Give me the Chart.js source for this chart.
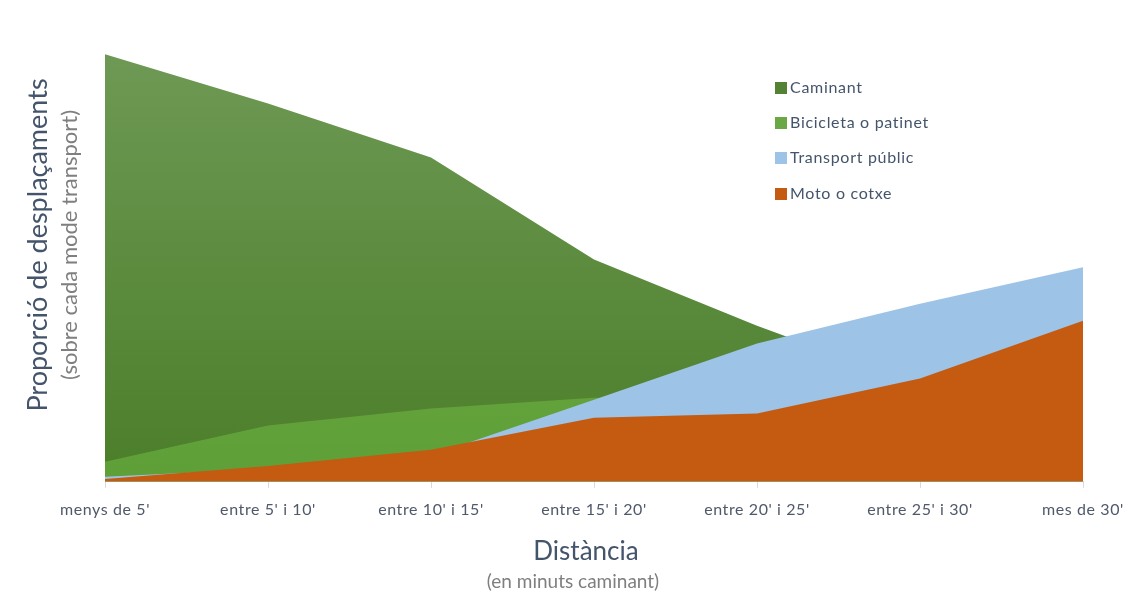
<!DOCTYPE html>
<html>
<head>
<meta charset="utf-8">
<script src="https://cdn.jsdelivr.net/npm/chart.js@4"></script>
<style>
  body { margin: 0; background: #fff; }
  #wrap { width: 1148px; height: 597px; }
</style>
</head>
<body>
<div id="wrap"><canvas id="myChart" width="1148" height="597"></canvas></div>
<script>
/*----data----*/
const categories = ["menys de 5'", "entre 5' i 10'", "entre 10' i 15'", "entre 15' i 20'", "entre 20' i 25'", "entre 25' i 30'", "mes de 30'"];
const caminant   = [60, 53.1, 45.5, 31.2, 21.9, 13.5, 8.6];
const bicicleta  = [2.8, 7.9, 10.3, 11.8, 11.4, 10.5, 9.5];
const transport  = [0.7, 1.8, 3.7, 11.5, 19.4, 25.0, 30.1];
const moto       = [0.4, 2.2, 4.5, 9.0, 9.6, 14.5, 22.6];
const seriesNames = ["Caminant", "Bicicleta o patinet", "Transport públic", "Moto o cotxe"];

const FONT = "Lato, 'Open Sans', sans-serif";

/*----gradients----*/
function grad(top, bottom) {
  return function(c) {
    const area = c.chart.chartArea;
    if (!area) return bottom;
    const g = c.chart.ctx.createLinearGradient(0, area.top, 0, area.bottom);
    g.addColorStop(0, top);
    g.addColorStop(1, bottom);
    return g;
  };
}

const legendColors = ["#548235", "#6aa843", "#9dc3e6", "#c55a11"];

/*----titles + legend drawn on canvas----*/
const extras = {
  id: "extras",
  beforeDraw(chart) {
    chart.ctx.letterSpacing = "0.6px";
  },
  afterDraw(chart) {
    const ctx = chart.ctx;
    ctx.save();
    ctx.letterSpacing = "0px";
    // y title
    ctx.translate(38, 245);
    ctx.rotate(-Math.PI / 2);
    ctx.textAlign = "center";
    ctx.textBaseline = "middle";
    ctx.fillStyle = "#44546a";
    ctx.font = "27px " + FONT;
    ctx.fillText("Proporció de desplaçaments", 0, 0);
    ctx.fillStyle = "#7f7f7f";
    ctx.font = "22px " + FONT;
    ctx.fillText("(sobre cada mode transport)", 0, 32);
    ctx.restore();

    ctx.save();
    ctx.letterSpacing = "0px";
    ctx.textAlign = "center";
    ctx.textBaseline = "middle";
    ctx.fillStyle = "#44546a";
    ctx.font = "26px " + FONT;
    ctx.fillText("Distància", 586, 552);
    ctx.fillStyle = "#7f7f7f";
    ctx.font = "19px " + FONT;
    ctx.fillText("(en minuts caminant)", 573, 582);

    // legend
    ctx.textAlign = "left";
    ctx.letterSpacing = "0.7px";
    ctx.font = "16px " + FONT;
    const ys = [88, 123, 158, 194];
    for (let i = 0; i < seriesNames.length; i++) {
      ctx.fillStyle = legendColors[i];
      ctx.fillRect(775, ys[i] - 6, 12, 12);
      ctx.fillStyle = "#44546a";
      ctx.fillText(seriesNames[i], 790, ys[i]);
    }
    ctx.restore();
  }
};

/*----graph----*/
new Chart("myChart", {
  type: "line",
  data: {
    labels: categories,
    datasets: [
      { label: seriesNames[0], data: caminant, order: 4, fill: "origin",
        backgroundColor: grad("#6f9a56", "#4b7e29") },
      { label: seriesNames[1], data: bicicleta, order: 3, fill: "origin",
        backgroundColor: grad("#74b04e", "#5f9f37") },
      { label: seriesNames[2], data: transport, order: 2, fill: "origin",
        backgroundColor: "#9dc3e6" },
      { label: seriesNames[3], data: moto, order: 1, fill: "origin",
        backgroundColor: "#c55a11" }
    ]
  },
  options: {
    responsive: false,
    animation: false,
    layout: { padding: { left: 105, right: 65, top: 40, bottom: 66 } },
    elements: {
      point: { radius: 0 },
      line: { borderWidth: 0, tension: 0 }
    },
    plugins: {
      legend: { display: false },
      tooltip: { enabled: false }
    },
    scales: {
      x: {
        offset: false,
        grid: { drawOnChartArea: false, color: "#d9d9d9", tickLength: 6 },
        border: { color: "#d9d9d9" },
        ticks: { color: "#50596a", font: { family: FONT, size: 16 }, padding: 12, maxRotation: 0, autoSkip: false }
      },
      y: { display: false, min: 0, max: 62 }
    }
  },
  plugins: [extras]
});
</script>
</body>
</html>
